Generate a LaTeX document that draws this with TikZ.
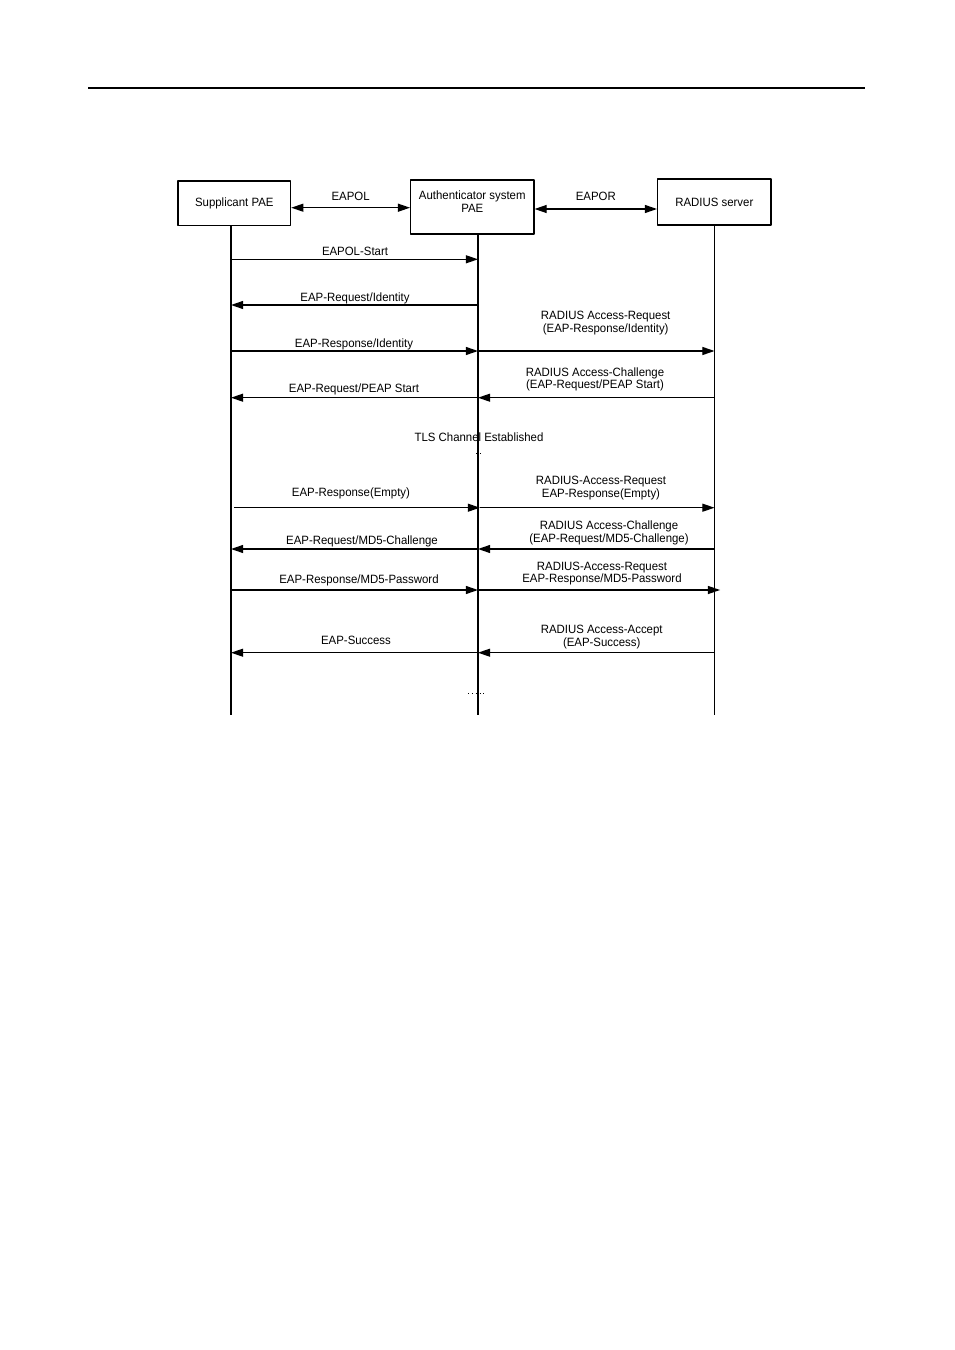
\documentclass[tikz,border=0pt]{standalone}
\usepackage{fontspec}
\setmainfont{Liberation Sans}[FakeStretch=0.95]
\usetikzlibrary{arrows.meta}
\begin{document}
\begin{tikzpicture}[x=0.624pt,y=-0.624pt,line join=round,>={Triangle[length=7.6pt,width=5pt]}]
    \tikzset{lab/.style={font=\fontsize{7.5}{8.1}\selectfont,inner sep=0pt,align=center},
             box/.style={draw,line width=0.8pt,lab},
             msg/.style={->,line width=0.8pt}}
    \useasboundingbox (0,0) rectangle (954,1350);
    \draw[line width=0.65pt] (88,88)--(865,88);
    % entities
    \node[box,minimum width=70.3pt,minimum height=27.9pt] (supp) at (234.3,203.3) {Supplicant PAE};
    \node[box,minimum width=76.9pt,minimum height=33.7pt] (auth) at (472.3,207) {};
    \node[lab] (authtxt) at (472.3,202) {Authenticator system\\PAE};
    \node[box,minimum width=70.7pt,minimum height=28.7pt] (rad) at (714.3,202) {RADIUS server};
    \coordinate (l1) at ([yshift=-2.75pt]supp.east);
    \coordinate (l2) at ([yshift=-1.25pt]auth.east);
    \draw[<->,line width=0.8pt] (l1) -- node[lab,above=4.2pt] (eapol) {EAPOL} (l1 -| auth.west);
    \draw[<->,line width=0.8pt] (l2) -- node[lab,above=5pt] (eapor) {EAPOR} (l2 -| rad.west);
    % lifelines
    \coordinate (sb) at (231,715);
    \coordinate (ab) at (478,715);
    \coordinate (rb) at (714.5,715);
    \draw[line width=0.8pt] (supp.south -| sb) -- (sb) (auth.south -| ab) -- (ab) (rad.south -| rb) -- (rb);
    \foreach \n/\y in {1/259.3,2/305,3/351,4/397.7,5/507.7,6/549,7/590,8/652.7}{
        \coordinate (s\n) at (231,\y);
        \coordinate (a\n) at (478,\y);
        \coordinate (r\n) at (714.5,\y);}
    \coordinate (s5') at ([xshift=1.9pt]s5);
    \coordinate (a5') at ([xshift=1.2pt]a5);
    \coordinate (r7') at ([xshift=3.5pt]r7);
    % messages
    \foreach \a/\b in {s1/a1,a2/s2,s3/a3,a3/r3,r4/a4,a4/s4,s5'/a5',a5'/r5,r6/a6,a6/s6,s7/a7,a7/r7',r8/a8,a8/s8}
        \draw[msg] (\a) -- (\b);
    \foreach \x/\y/\t [count=\i] in {355/256/{EAPOL-Start},355/301.6/{EAP-Request/Identity},
        354/347.6/{EAP-Response/Identity},354/392/{EAP-Request/PEAP Start},351/496/{EAP-Response(Empty)},
        362/544.3/{EAP-Request/MD5-Challenge},359/583.3/{EAP-Response/MD5-Password},356/644.3/{EAP-Success}}
        \node[lab,anchor=base] (ml\i) at (\x,\y) {\t};
    \foreach \x/\y/\t [count=\i] in {605.7/335.5/{RADIUS Access-Request\\(EAP-Response/Identity)},
        595/391.8/{RADIUS Access-Challenge\\(EAP-Request/PEAP Start)},
        601/500.1/{RADIUS-Access-Request\\EAP-Response(Empty)},
        609/545.1/{RADIUS Access-Challenge\\(EAP-Request/MD5-Challenge)},
        602/585.8/{RADIUS-Access-Request\\EAP-Response/MD5-Password},
        601.7/649.1/{RADIUS Access-Accept\\(EAP-Success)}}
        \node[lab,anchor=south] (mr\i) at (\x,\y) {\t};
    \node[lab,anchor=base] (tls) at (479,441) {TLS Channel Established};
    \draw[dotted,line width=0.4pt] (476,453)--(483,453);
    \draw[dotted,line width=0.4pt] (468,693.3)--(487,693.3);
\end{tikzpicture}
\end{document}
